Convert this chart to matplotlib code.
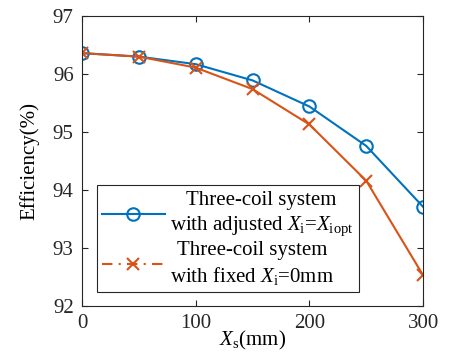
import matplotlib
matplotlib.use("Agg")
import matplotlib.pyplot as plt
from matplotlib.lines import Line2D

BLUE = "#0072BD"
ORANGE = "#D95319"

xs_mm = [0, 50, 100, 150, 200, 250, 300]
eff_adjusted = [96.36, 96.30, 96.17, 95.89, 95.44, 94.76, 93.71]
eff_fixed = [96.36, 96.30, 96.11, 95.74, 95.13, 94.16, 92.53]

x_ticks = [0, 100, 200, 300]
y_ticks = [92, 93, 94, 95, 96, 97]

plt.rcParams["font.family"] = ["Liberation Serif", "DejaVu Serif"]
plt.rcParams["mathtext.fontset"] = "custom"
plt.rcParams["mathtext.rm"] = "Liberation Serif"
plt.rcParams["mathtext.it"] = "Liberation Serif:italic"

FS = 15

fig = plt.figure(figsize=(4.53, 3.56), dpi=100)
ax = fig.add_axes([0.181, 0.1404, 0.753, 0.8146])

ax.plot(xs_mm, eff_adjusted, color=BLUE, linewidth=1.5, marker="o",
        markersize=9, markerfacecolor="none", markeredgewidth=1.5)
ax.plot(xs_mm, eff_fixed, color=ORANGE, linewidth=1.5, marker="x",
        markersize=9, markeredgewidth=1.5)

ax.set_xlim(0, 300)
ax.set_ylim(92, 97)
ax.set_xticks(x_ticks)
ax.set_yticks(y_ticks)
ax.tick_params(direction="in", top=True, right=True, length=4, width=0.8,
               labelsize=FS, colors="#262626", pad=6)
for spine in ax.spines.values():
    spine.set_color("#262626")
    spine.set_linewidth(0.8)

ax.set_xlabel(r"$X_{\mathrm{s}}$(mm)", fontsize=FS, labelpad=-3)
ax.set_ylabel("Efficiency(%)", fontsize=FS, labelpad=10)

handles = [
    Line2D([], [], color=BLUE, linewidth=1.5, marker="o", markersize=9,
           markerfacecolor="none", markeredgewidth=1.5),
    Line2D([], [], color=ORANGE, linewidth=1.5, linestyle=(0, (5, 3, 1, 3)),
           marker="x", markersize=9, markeredgewidth=1.5),
]
labels = [
    "Three-coil system\nwith adjusted $X_{\\mathrm{i}}$=$X_{\\mathrm{iopt}}$",
    "Three-coil system\nwith fixed $X_{\\mathrm{i}}$=0mm",
]
leg = ax.legend(handles, labels, loc="lower left", bbox_to_anchor=(0.044, 0.048),
                borderaxespad=0, fontsize=FS, frameon=True, fancybox=False,
                edgecolor="#262626", framealpha=1, handlelength=3.0,
                labelspacing=0.15, borderpad=0.25, handletextpad=0.25)
leg.get_frame().set_linewidth(0.8)
for t in leg.get_texts():
    t.set_multialignment("center")
    t.set_linespacing(1.3)

fig.savefig("out.png", dpi=100, facecolor="white")
